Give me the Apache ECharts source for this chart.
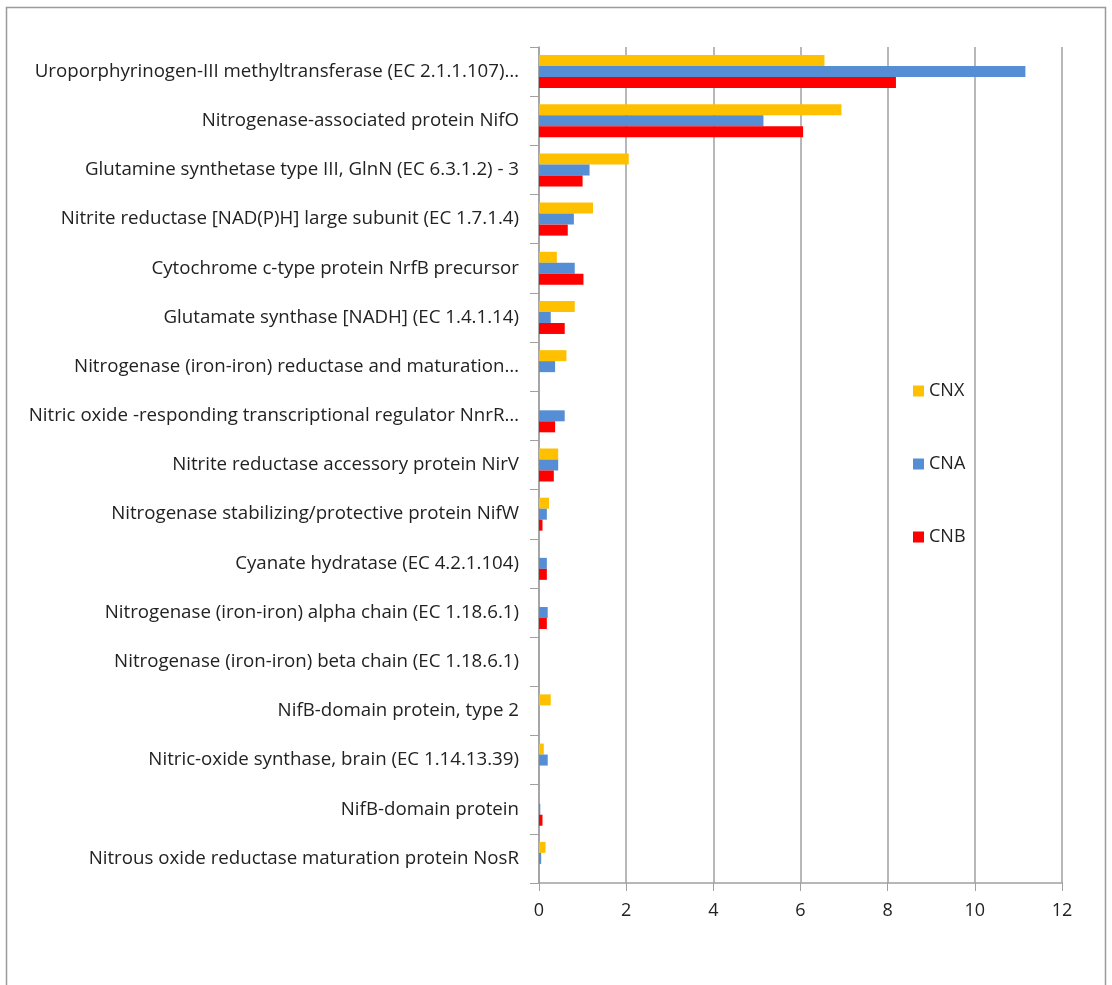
<!DOCTYPE html>
<html>
<head>
<meta charset="utf-8">
<script src="https://cdn.jsdelivr.net/npm/echarts@6/dist/echarts.min.js"></script>
<style>
  html, body { margin: 0; padding: 0; background: #fff; }
  #chart { width: 1112px; height: 985px; }
</style>
</head>
<body>
<div id="chart"></div>
<script>
// Protein categories, top to bottom
const categories = [
  'Uroporphyrinogen-III methyltransferase (EC 2.1.1.107)…',
  'Nitrogenase-associated protein NifO',
  'Glutamine synthetase type III, GlnN (EC 6.3.1.2) - 3',
  'Nitrite reductase [NAD(P)H] large subunit (EC 1.7.1.4)',
  'Cytochrome c-type protein NrfB precursor',
  'Glutamate synthase [NADH] (EC 1.4.1.14)',
  'Nitrogenase (iron-iron) reductase and maturation…',
  'Nitric oxide -responding transcriptional regulator NnrR…',
  'Nitrite reductase accessory protein NirV',
  'Nitrogenase stabilizing/protective protein NifW',
  'Cyanate hydratase (EC 4.2.1.104)',
  'Nitrogenase (iron-iron) alpha chain (EC 1.18.6.1)',
  'Nitrogenase (iron-iron) beta chain (EC 1.18.6.1)',
  'NifB-domain protein, type 2',
  'Nitric-oxide synthase, brain (EC 1.14.13.39)',
  'NifB-domain protein',
  'Nitrous oxide reductase maturation protein NosR'
];

const seriesNames = ['CNX', 'CNA', 'CNB'];

const cnx = [6.55, 6.94, 2.06, 1.24, 0.41, 0.82, 0.63, 0, 0.44, 0.23, 0, 0, 0, 0.27, 0.11, 0, 0.15];
const cna = [11.16, 5.15, 1.16, 0.80, 0.82, 0.27, 0.37, 0.59, 0.44, 0.18, 0.18, 0.20, 0, 0, 0.20, 0.03, 0.05];
const cnb = [8.19, 6.06, 1.00, 0.66, 1.02, 0.59, 0, 0.37, 0.34, 0.08, 0.18, 0.18, 0, 0, 0, 0.08, 0];

const xTicks = [0, 2, 4, 6, 8, 10, 12];

const colors = ['#FFC000', '#558ED5', '#FF0000'];
const font = '"Open Sans", "Noto Sans", sans-serif';

const chart = echarts.init(document.getElementById('chart'), null, { renderer: 'canvas' });

const values = [cnx, cna, cnb];

chart.setOption({
  animation: false,
  backgroundColor: '#ffffff',
  color: colors,
  textStyle: { fontFamily: font },
  graphic: [{
    type: 'rect',
    shape: { x: 6.5, y: 7.5, width: 1099, height: 990 },
    style: { fill: 'none', stroke: '#9a9a9a', lineWidth: 1.5 },
    silent: true
  }],
  legend: {
    orient: 'vertical',
    left: 908,
    top: 377,
    itemWidth: 11,
    itemHeight: 11,
    itemGap: 55,
    itemStyle: { borderWidth: 0 },
    icon: 'rect',
    textStyle: { fontSize: 18, color: '#222', fontFamily: font },
    data: seriesNames
  },
  grid: { left: 539, right: 50, top: 47, bottom: 102, containLabel: false },
  xAxis: {
    type: 'value',
    min: xTicks[0],
    max: xTicks[xTicks.length - 1],
    interval: 2,
    axisLine: { show: true, lineStyle: { color: '#a0a0a0', width: 1.5 } },
    axisTick: { show: true, length: 8, lineStyle: { color: '#a0a0a0' } },
    axisLabel: { fontSize: 18, color: '#222', margin: 19, fontFamily: font },
    splitLine: { show: true, lineStyle: { color: '#a0a0a0', width: 1.5 } }
  },
  yAxis: {
    type: 'category',
    inverse: true,
    data: categories,
    axisLine: { show: true, lineStyle: { color: '#a0a0a0', width: 1.5 } },
    axisTick: { show: true, length: 9, lineStyle: { color: '#a0a0a0' } },
    axisLabel: { fontSize: 18.7, color: '#222', margin: 20, fontFamily: font }
  },
  series: seriesNames.map((name, i) => ({
    name,
    type: 'bar',
    data: values[i],
    barWidth: 11,
    barGap: '0%',
    itemStyle: { color: colors[i] }
  }))
});
</script>
</body>
</html>
